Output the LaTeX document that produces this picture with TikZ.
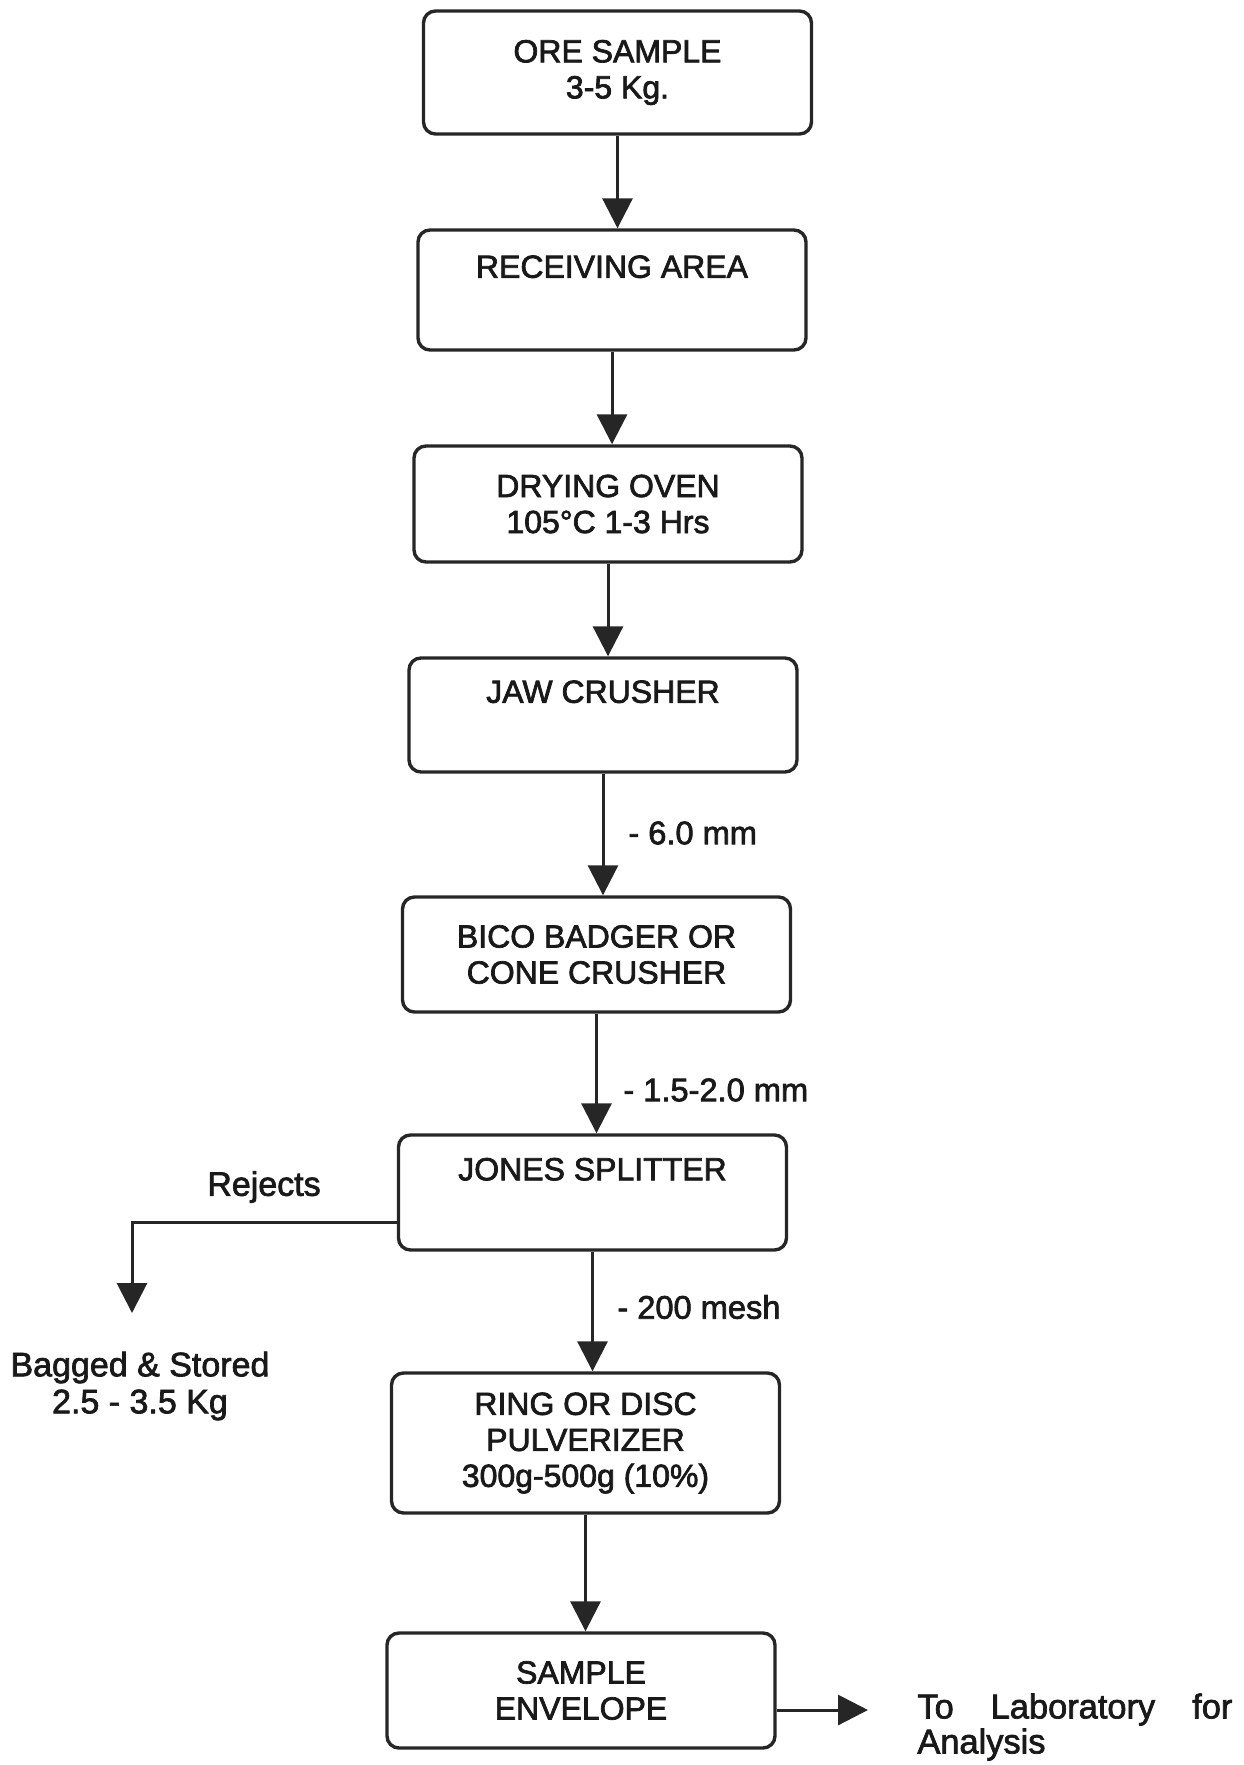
\documentclass[tikz,border=0pt]{standalone}
\usepackage{fontspec}
\setmainfont{Liberation Sans}
\usetikzlibrary{arrows.meta}
\newcommand{\heavytxt}{\special{pdf:literal direct 2 Tr 0.35 w}}
\begin{document}
\begin{tikzpicture}[x=0.5pt,y=-0.5pt,
  box/.style={draw=black!85, line width=1.7pt, rounded corners=6pt, minimum width=194pt, align=center, font=\fontsize{16}{18}\selectfont\heavytxt, inner sep=0pt, text=black!90},
  lbl/.style={font=\fontsize{16.3}{18}\selectfont\heavytxt, inner sep=0pt, text=black!90},
  arr/.style={draw=black!85, line width=1.5pt, -{Triangle[width=15pt,length=15pt]}}]
\useasboundingbox (0,0) rectangle (1243,1765);
\node[box, minimum height=61.5pt] (b1) at (617.5,72.5) {ORE SAMPLE\\3-5 Kg.};
\node[box, minimum height=60pt] (b2) at (612,290) {RECEIVING AREA\\\strut};
\node[box, minimum height=58pt] (b3) at (608,504) {DRYING OVEN\\105°C 1-3 Hrs};
\node[box, minimum height=57pt] (b4) at (603,715) {JAW CRUSHER\\\strut};
\node[box, minimum height=57.5pt] (b5) at (596.5,954.5) {BICO BADGER OR\\CONE CRUSHER};
\node[box, minimum height=57.5pt] (b6) at (592.5,1192.5) {JONES SPLITTER\\\strut};
\node[box, minimum height=70pt] (b7) at (585.5,1443) {RING OR DISC\\PULVERIZER\\300g-500g (10\%)};
\node[box, minimum height=57.5pt] (b8) at (581,1690.5) {SAMPLE\\ENVELOPE};
\draw[arr] (b1.south) -- (b1.south |- b2.north);
\draw[arr] (b2.south) -- (b2.south |- b3.north);
\draw[arr] (b3.south) -- (b3.south |- b4.north);
\draw[arr] (b4.south) -- (b4.south |- b5.north);
\draw[arr] (b5.south) -- (b5.south |- b6.north);
\draw[arr] (b6.south) -- (b6.south |- b7.north);
\draw[arr] (b7.south) -- (b7.south |- b8.north);
\node[lbl, anchor=west] (l1) at (628,833) {- 6.0 mm};
\node[lbl, anchor=west] (l2) at (623,1090) {- 1.5-2.0 mm};
\node[lbl, anchor=west] (l3) at (617,1307) {- 200 mesh};
\node[lbl, font=\fontsize{17}{19}\selectfont\heavytxt] (rejt) at (264,1187) {Rejects};
\node[lbl, align=center, font=\fontsize{17}{18.5}\selectfont\heavytxt] (bag) at (140,1386) {Bagged \& Stored\\2.5 - 3.5 Kg};
\coordinate (rej) at (132,1313);
\draw[arr] ([yshift=-15pt]b6.west) -| (rej);
\coordinate (labtip) at (868,1710);
\draw[arr] (b8.east |- labtip) -- (labtip);
\node[lbl, anchor=west, align=left, text width=157.5pt, font=\fontsize{17.2}{17.5}\selectfont\heavytxt] (lab) at (917,1727) {\hbox to 157.5pt{To\hfill Laboratory\hfill for}\\Analysis};
\end{tikzpicture}
\end{document}
